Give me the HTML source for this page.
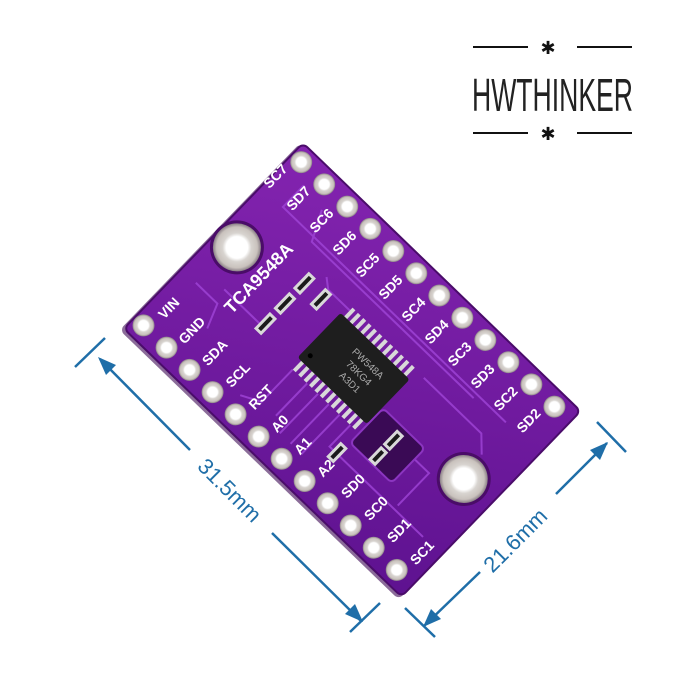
<!DOCTYPE html>
<html><head><meta charset="utf-8"><style>
html,body{margin:0;padding:0;background:#fff;}
svg{display:block;}
</style></head><body>
<svg width="700" height="700" viewBox="0 0 700 700" xmlns="http://www.w3.org/2000/svg">
<defs>
<linearGradient id="bg" x1="0" y1="0" x2="1" y2="1">
<stop offset="0" stop-color="#8424b0"/><stop offset="1" stop-color="#5e1290"/>
</linearGradient>
<radialGradient id="pad" cx="0.5" cy="0.5" r="0.5">
<stop offset="0.45" stop-color="#ffffff"/><stop offset="0.6" stop-color="#d8d4d0"/><stop offset="0.85" stop-color="#c9c2bd"/><stop offset="1" stop-color="#8a7f86"/>
</radialGradient>
</defs>

<!-- logo -->
<g stroke="#111" stroke-width="2" fill="none">
<line x1="473" y1="47" x2="528" y2="47"/><line x1="577" y1="47" x2="632" y2="47"/>
<line x1="473" y1="133" x2="528" y2="133"/><line x1="577" y1="133" x2="632" y2="133"/>
</g>
<text x="548" y="54" font-family="Liberation Sans, sans-serif" font-size="18" text-anchor="middle" fill="#111">✱</text>
<text x="548" y="140" font-family="Liberation Sans, sans-serif" font-size="18" text-anchor="middle" fill="#111">✱</text>
<text x="472" y="111" font-family="Liberation Sans Narrow, Liberation Sans, sans-serif" font-size="46" textLength="161" lengthAdjust="spacingAndGlyphs" fill="#222" font-weight="normal">HWTHINKER</text>

<!-- dimension lines -->
<g stroke="#1f6ea8" stroke-width="2.5" fill="#1f6ea8">
<line x1="100" y1="359" x2="190" y2="450"/>
<line x1="272" y1="533" x2="361" y2="621"/>
<line x1="75" y1="367" x2="105" y2="338"/>
<line x1="350" y1="632" x2="380" y2="603"/>
<polygon points="98,357 116,365 106,375" stroke="none"/>
<polygon points="363,622 345,614 355,604" stroke="none"/>
<line x1="424" y1="626" x2="480" y2="572"/>
<line x1="556" y1="494" x2="607" y2="443"/>
<line x1="405" y1="608" x2="435" y2="637"/>
<line x1="597" y1="422" x2="626" y2="452"/>
<polygon points="423,627 431,609 441,619" stroke="none"/>
<polygon points="608,442 600,460 590,450" stroke="none"/>
</g>
<text x="230" y="498" transform="rotate(45 230 490)" font-family="Liberation Sans, sans-serif" font-size="22" text-anchor="middle" fill="#1f6ea8">31.5mm</text>
<text x="515" y="548" transform="rotate(-45 515 540)" font-family="Liberation Sans, sans-serif" font-size="22" text-anchor="middle" fill="#1f6ea8">21.6mm</text>

<!-- board -->
<g transform="translate(303,143) rotate(44)">
<rect x="-2" y="2" width="388" height="260" rx="6" fill="#3e0a55" opacity="0.6"/>
<rect x="0" y="0" width="386" height="258" rx="6" fill="url(#bg)" stroke="#4a0c6a" stroke-width="2"/>
<!-- traces -->
<g stroke="#a045d8" stroke-width="2" fill="none" opacity="0.8">
<path d="M30 30 L30 60 L70 60 L340 60"/>
<path d="M60 35 L75 65 L300 65"/>
<path d="M110 80 L120 88 L150 88"/>
<path d="M230 170 L230 200 L360 200"/>
<path d="M150 170 L150 215 L130 225"/>
<path d="M170 170 L170 215"/>
<path d="M185 170 L185 225"/>
<path d="M200 170 L200 225"/>
<path d="M215 170 L215 225"/>
<path d="M250 85 L330 85 L345 100"/>
<path d="M255 150 L320 150 L320 195"/>
<path d="M20 175 L50 175 L60 200"/>
<path d="M45 160 L95 160"/>
</g>
<rect x="242" y="135" width="58" height="48" rx="5" fill="#3a0a55" stroke="#8b35c0" stroke-width="2"/>
<!-- holes -->
<circle cx="25" cy="121" r="27" fill="#4a0c68"/>
<circle cx="25" cy="121" r="24" fill="url(#pad)"/>
<circle cx="349" cy="130" r="27" fill="#4a0c68"/>
<circle cx="349" cy="130" r="24" fill="url(#pad)"/>
<!-- SMD parts -->
<g fill="#1a1a1a" stroke="#d9d9d9" stroke-width="3">
<rect x="95" y="90" width="7" height="20"/>
<rect x="95" y="118" width="7" height="20"/>
<rect x="95" y="146" width="7" height="20"/>
<rect x="118" y="90" width="7" height="20"/>
<rect x="268" y="142" width="7" height="18"/>
<rect x="268" y="165" width="7" height="16"/>
<rect x="236" y="190" width="7" height="18"/>
</g>
<!-- chip pins -->
<g fill="#d8d8d8">
<g id="prow">
<rect x="150" y="84" width="4" height="14"/><rect x="157.5" y="84" width="4" height="14"/><rect x="165" y="84" width="4" height="14"/><rect x="172.5" y="84" width="4" height="14"/><rect x="180" y="84" width="4" height="14"/><rect x="187.5" y="84" width="4" height="14"/><rect x="195" y="84" width="4" height="14"/><rect x="202.5" y="84" width="4" height="14"/><rect x="210" y="84" width="4" height="14"/><rect x="217.5" y="84" width="4" height="14"/><rect x="225" y="84" width="4" height="14"/><rect x="232.5" y="84" width="4" height="14"/>
</g>
<use href="#prow" transform="translate(0,72)"/>
</g>
<rect x="145" y="96" width="96" height="62" rx="3" fill="#1e1e1e"/>
<circle cx="153" cy="148" r="2.5" fill="#000"/>
<g font-family="Liberation Sans, sans-serif" font-size="10" fill="#aaa" text-anchor="middle">
<text x="200" y="117">PW548A</text><text x="200" y="130">78KG4</text><text x="200" y="143">A3D1</text>
</g>
<!-- pads -->
<g id="padrow">
<circle cx="12" cy="15" r="11" fill="url(#pad)"/><circle cx="44" cy="15" r="11" fill="url(#pad)"/><circle cx="76" cy="15" r="11" fill="url(#pad)"/><circle cx="108" cy="15" r="11" fill="url(#pad)"/><circle cx="140" cy="15" r="11" fill="url(#pad)"/><circle cx="172" cy="15" r="11" fill="url(#pad)"/><circle cx="204" cy="15" r="11" fill="url(#pad)"/><circle cx="236" cy="15" r="11" fill="url(#pad)"/><circle cx="268" cy="15" r="11" fill="url(#pad)"/><circle cx="300" cy="15" r="11" fill="url(#pad)"/><circle cx="332" cy="15" r="11" fill="url(#pad)"/><circle cx="364" cy="15" r="11" fill="url(#pad)"/>
</g>
<use href="#padrow" transform="translate(0,227)"/>
<!-- labels -->
<g font-family="Liberation Sans, sans-serif" font-size="14" font-weight="bold" fill="#fff" text-anchor="middle">
<text transform="translate(3,43) rotate(-90)" dy="5">SC7</text>
<text transform="translate(35,43) rotate(-90)" dy="5">SD7</text>
<text transform="translate(67,43) rotate(-90)" dy="5">SC6</text>
<text transform="translate(99,43) rotate(-90)" dy="5">SD6</text>
<text transform="translate(131,43) rotate(-90)" dy="5">SC5</text>
<text transform="translate(163,43) rotate(-90)" dy="5">SD5</text>
<text transform="translate(195,43) rotate(-90)" dy="5">SC4</text>
<text transform="translate(227,43) rotate(-90)" dy="5">SD4</text>
<text transform="translate(259,43) rotate(-90)" dy="5">SC3</text>
<text transform="translate(291,43) rotate(-90)" dy="5">SD3</text>
<text transform="translate(323,43) rotate(-90)" dy="5">SC2</text>
<text transform="translate(355,43) rotate(-90)" dy="5">SD2</text>
<text transform="translate(18,212) rotate(-90)" dy="5">VIN</text>
<text transform="translate(50,212) rotate(-90)" dy="5">GND</text>
<text transform="translate(82,212) rotate(-90)" dy="5">SDA</text>
<text transform="translate(114,212) rotate(-90)" dy="5">SCL</text>
<text transform="translate(146,212) rotate(-90)" dy="5">RST</text>
<text transform="translate(178,218) rotate(-90)" dy="5">A0</text>
<text transform="translate(210,218) rotate(-90)" dy="5">A1</text>
<text transform="translate(242,218) rotate(-90)" dy="5">A2</text>
<text transform="translate(274,212) rotate(-90)" dy="5">SD0</text>
<text transform="translate(306,212) rotate(-90)" dy="5">SC0</text>
<text transform="translate(338,212) rotate(-90)" dy="5">SD1</text>
<text transform="translate(370,212) rotate(-90)" dy="5">SC1</text>
<text transform="translate(62,128) rotate(-90)" dy="6" font-size="18">TCA9548A</text>
</g>
</g>
</svg>
</body></html>
